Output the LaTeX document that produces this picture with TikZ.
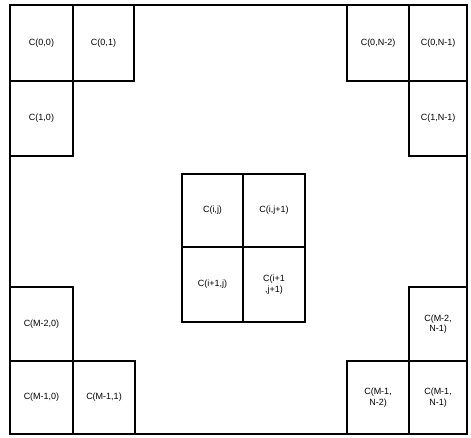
\documentclass[tikz,border=0pt]{standalone}
\usepackage{fontspec}
\setmainfont{Liberation Sans}
\begin{document}
\begin{tikzpicture}[x=1pt,y=-1pt,
  cell/.style={draw, line width=1.1pt, inner sep=0pt, align=center,
    font=\fontsize{9}{10.5}\selectfont, text=black},
  frame/.style={draw, line width=1.1pt}]
\useasboundingbox[fill=white] (0,0) rectangle (471,437);
% outer frame
\draw[frame] (10,5) rectangle (467,434);
% corner cells: top left
\node[cell, minimum width=63pt, minimum height=76pt] (c00) at (41.5,43) {C(0,0)};
\node[cell, minimum width=61pt, minimum height=76pt] (c01) at (103.5,43) {C(0,1)};
\node[cell, minimum width=63pt, minimum height=75pt] (c10) at (41.5,118.5) {C(1,0)};
% top right
\node[cell, minimum width=62pt, minimum height=76pt] (c0n2) at (378,43) {C(0,N-2)};
\node[cell, minimum width=58pt, minimum height=76pt] (c0n1) at (438,43) {C(0,N-1)};
\node[cell, minimum width=58pt, minimum height=75pt] (c1n1) at (438,118.5) {C(1,N-1)};
% bottom left
\node[cell, minimum width=63pt, minimum height=74pt] (cm20) at (41.5,324) {C(M-2,0)};
\node[cell, minimum width=63pt, minimum height=73pt] (cm10) at (41.5,397.5) {C(M-1,0)};
\node[cell, minimum width=62pt, minimum height=73pt] (cm11) at (104,397.5) {C(M-1,1)};
% bottom right
\node[cell, minimum width=58pt, minimum height=74pt] (cm2n1) at (438,324) {C(M-2,\\N-1)};
\node[cell, minimum width=62pt, minimum height=73pt] (cm1n2) at (378,397.5) {C(M-1,\\N-2)};
\node[cell, minimum width=58pt, minimum height=73pt] (cm1n1) at (438,397.5) {C(M-1,\\N-1)};
% centre block
\node[cell, minimum width=61pt, minimum height=73pt] (cij) at (212.5,210.5) {C(i,j)};
\node[cell, minimum width=62pt, minimum height=73pt] (cij1) at (274,210.5) {C(i,j+1)};
\node[cell, minimum width=61pt, minimum height=75pt] (ci1j) at (212.5,284.5) {C(i+1,j)};
\node[cell, minimum width=62pt, minimum height=75pt] (ci1j1) at (274,284.5) {C(i+1\\,j+1)};
\end{tikzpicture}
\end{document}
